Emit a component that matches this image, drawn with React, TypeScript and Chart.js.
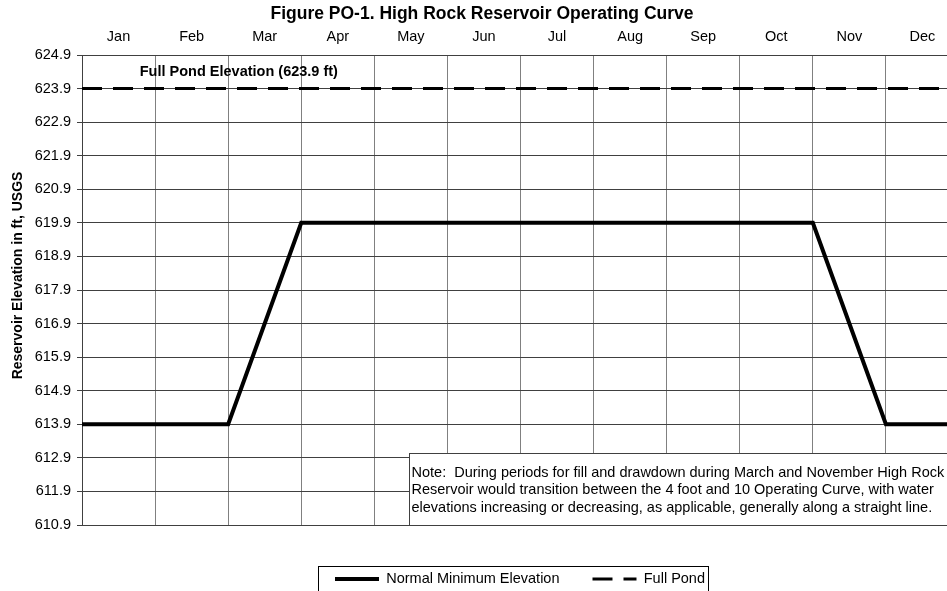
import { useEffect, useRef } from 'react';
import { Chart, registerables } from 'chart.js';

Chart.register(...registerables);

// ---- data ----
const months = ['Jan', 'Feb', 'Mar', 'Apr', 'May', 'Jun', 'Jul', 'Aug', 'Sep', 'Oct', 'Nov', 'Dec'];
const normalMinMonth = [0, 2, 3, 10, 11, 12];
const normalMinElev = [613.9, 613.9, 619.9, 619.9, 613.9, 613.9];
const fullPondMonth = [0, 12];
const fullPondElev = [623.9, 623.9];
const yTickLabels = [
  '610.9', '611.9', '612.9', '613.9', '614.9', '615.9', '616.9', '617.9',
  '618.9', '619.9', '620.9', '621.9', '622.9', '623.9', '624.9',
];
const chartTitle = 'Figure PO-1. High Rock Reservoir Operating Curve';
const yAxisTitle = 'Reservoir Elevation in ft, USGS';
const fullPondLabel = 'Full Pond Elevation (623.9 ft)';
const noteLines = [
  'Note:  During periods for fill and drawdown during March and November High Rock',
  'Reservoir would transition between the 4 foot and 10 Operating Curve, with water',
  'elevations increasing or decreasing, as applicable, generally along a straight line.',
];

const FONT = '"Liberation Sans", Arial, Helvetica, sans-serif';
const FS = 14.5;

export default function App() {
  const ref = useRef<HTMLCanvasElement | null>(null);

  useEffect(() => {
    if (!ref.current) return;

    const decor = {
      id: 'decor',
      afterLayout(chart: any) {
        const lg = chart.legend;
        if (!lg) return;
        const pad = lg.options.labels.padding;
        const targetX = 335;
        lg.left = 0;
        lg.right = 2 * targetX - pad + lg.lineWidths[0];
        lg.width = lg.right - lg.left;
        lg.top = 579 - FS / 2 - pad;
        lg.bottom = 600;
        lg.height = lg.bottom - lg.top;
      },
      afterDraw(chart: any) {
        const ctx = chart.ctx as CanvasRenderingContext2D;
        const xs = chart.scales.x;
        const ys = chart.scales.y;
        const area = chart.chartArea;
        ctx.save();

        // Full pond label
        ctx.fillStyle = '#000';
        ctx.font = `bold ${FS}px ${FONT}`;
        ctx.textAlign = 'left';
        ctx.textBaseline = 'middle';
        ctx.fillText(fullPondLabel, xs.getPixelForValue(0.79), ys.getPixelForValue(624.39));

        // Note box
        const nl = Math.round(xs.getPixelForValue(4.48)) + 0.5;
        const nt = Math.round(ys.getPixelForValue(613.04)) + 0.5;
        const nb = Math.round(area.bottom) + 0.5;
        const nr = chart.width + 5;
        ctx.fillStyle = '#fff';
        ctx.fillRect(nl, nt, nr - nl, nb - nt);
        ctx.strokeStyle = '#404040';
        ctx.lineWidth = 1;
        ctx.strokeRect(nl, nt, nr - nl, nb - nt);
        ctx.fillStyle = '#000';
        ctx.font = `${FS}px ${FONT}`;
        noteLines.forEach((t, i) => {
          ctx.fillText(t, nl + 2, nt + 19 + i * 17.5);
        });

        // Y axis title
        ctx.save();
        ctx.translate(18, 275.5);
        ctx.rotate(-Math.PI / 2);
        ctx.font = `bold 14px ${FONT}`;
        ctx.textAlign = 'center';
        ctx.textBaseline = 'middle';
        ctx.fillText(yAxisTitle, 0, 0);
        ctx.restore();

        // Legend frame
        const lg = chart.legend;
        if (lg && lg.legendHitBoxes && lg.legendHitBoxes.length) {
          const hb = lg.legendHitBoxes;
          const first = hb[0];
          const last = hb[hb.length - 1];
          const l = Math.round(first.left - 17) + 0.5;
          const r = Math.round(last.left + last.width + 3) + 0.5;
          const t = Math.round(first.top - 6) + 0.5;
          ctx.strokeStyle = '#000';
          ctx.lineWidth = 1;
          ctx.strokeRect(l, t, r - l, 620 - t);
        }
        ctx.restore();
      },
    };

    const chart = new Chart(ref.current, {
      type: 'line',
      data: {
        datasets: [
          {
            label: 'Normal Minimum Elevation',
            data: normalMinMonth.map((x, i) => ({ x, y: normalMinElev[i] })),
            borderColor: '#000',
            backgroundColor: '#000',
            borderWidth: 4,
            borderJoinStyle: 'miter',
            pointRadius: 0,
            tension: 0,
            fill: false,
          },
          {
            label: 'Full Pond',
            data: fullPondMonth.map((x, i) => ({ x, y: fullPondElev[i] })),
            borderColor: '#000',
            backgroundColor: '#000',
            borderWidth: 3,
            borderDash: [20, 11],
            pointRadius: 0,
            tension: 0,
            fill: false,
          },
        ],
      },
      options: {
        animation: false,
        responsive: false,
        maintainAspectRatio: false,
        layout: { padding: { top: 0, left: 5, right: 6, bottom: 46 } },
        scales: {
          x: {
            type: 'linear',
            position: 'bottom',
            min: 0,
            max: months.length,
            afterBuildTicks: (s: any) => {
              s.ticks = months.map((_, i) => ({ value: i })).concat([{ value: months.length }]);
            },
            ticks: { display: false },
            grid: { color: '#808080', lineWidth: 1, drawTicks: false },
            border: { color: '#404040' },
          },
          xTop: {
            type: 'linear',
            position: 'top',
            min: 0,
            max: months.length,
            afterBuildTicks: (s: any) => {
              s.ticks = months.map((_, i) => ({ value: i + 0.5 }));
            },
            ticks: {
              callback: (_v: any, i: number) => months[i],
              font: { family: FONT, size: FS },
              color: '#000',
              padding: 9.5,
              maxRotation: 0,
              autoSkip: false,
            },
            grid: { display: false, drawTicks: false },
            border: { display: false },
            afterFit: (s: any) => {
              s.height = 30.5;
            },
          },
          y: {
            type: 'linear',
            min: parseFloat(yTickLabels[0]),
            max: parseFloat(yTickLabels[yTickLabels.length - 1]),
            afterBuildTicks: (s: any) => {
              s.ticks = yTickLabels.map((t) => ({ value: parseFloat(t) }));
            },
            ticks: {
              callback: (_v: any, i: number) => yTickLabels[i],
              font: { family: FONT, size: FS },
              color: '#000',
              padding: 6,
              autoSkip: false,
            },
            grid: { color: '#404040', lineWidth: 1, tickLength: 5 },
            border: { color: '#404040' },
            afterFit: (s: any) => {
              s.width = 77;
            },
          },
        },
        plugins: {
          title: {
            display: true,
            text: chartTitle,
            color: '#000',
            font: { family: FONT, size: 17.5, weight: 'bold' },
            padding: { top: 3.5, bottom: 0 },
          },
          legend: {
            position: 'bottom',
            maxHeight: 20,
            labels: {
              usePointStyle: true,
              pointStyle: 'line',
              pointStyleWidth: 44,
              padding: 33,
              color: '#000',
              font: { family: FONT, size: FS },
              generateLabels: (c: any) => {
                const items = (Chart.defaults as any).plugins.legend.labels.generateLabels(c);
                items.forEach((it: any) => {
                  const ds = c.data.datasets[it.datasetIndex];
                  it.lineDash = ds.borderDash || [];
                  it.lineWidth = ds.borderWidth;
                  it.strokeStyle = ds.borderColor;
                  it.pointStyle = 'line';
                });
                return items;
              },
            },
          },
          tooltip: { enabled: false },
        },
      } as any,
      plugins: [decor],
    });

    return () => chart.destroy();
  }, []);

  return (
    <div style={{ position: 'absolute', left: 0, top: 0, width: 947, height: 591, overflow: 'hidden', background: '#fff' }}>
      <canvas ref={ref} width={965} height={591} style={{ width: 965, height: 591, display: 'block' }} />
    </div>
  );
}
